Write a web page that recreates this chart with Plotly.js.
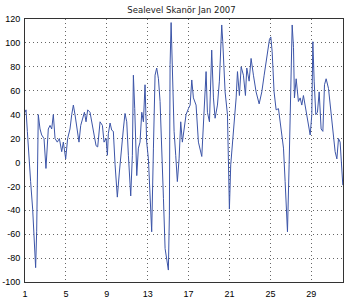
<!DOCTYPE html>
<html>
<head>
<meta charset="utf-8">
<script src="https://cdn.plot.ly/plotly-3.0.1.min.js"></script>
<style>html,body{margin:0;padding:0;background:#fff;}#chart{width:363px;height:299px;}</style>
</head>
<body>
<div id="chart"></div>
<script>
// Day of January 2007 (fractional) and sea level (cm)
const days = [
 1.00,1.10,1.23,1.39,1.55,1.75,1.91,2.04,2.14,2.24,2.30,2.47,2.63,2.86,3.05,3.28,3.45,3.61,3.77,3.94,
 4.16,4.36,4.59,4.75,4.98,5.17,5.40,5.57,5.73,5.89,6.12,6.28,6.45,6.64,6.81,6.97,7.13,7.36,7.59,7.75,
 7.95,8.11,8.34,8.57,8.73,8.93,9.06,9.15,9.32,9.48,9.64,9.81,10.03,10.23,10.46,10.62,10.78,10.95,11.11,11.34,
 11.50,11.60,11.73,11.93,12.09,12.25,12.42,12.58,12.74,12.90,13.07,13.23,13.39,13.56,13.72,13.88,14.05,14.21,14.37,14.54,
 14.70,14.86,15.02,15.12,15.19,15.29,15.42,15.58,15.74,15.90,16.07,16.23,16.39,16.56,16.75,16.98,17.15,17.31,17.47,17.73,
 17.96,18.29,18.51,18.71,18.84,19.04,19.26,19.43,19.59,19.82,20.01,20.24,20.34,20.57,20.80,20.99,21.12,21.38,21.65,21.78,
 21.97,22.14,22.36,22.56,22.69,22.92,23.11,23.34,23.60,23.90,24.16,24.39,24.65,24.91,25.04,25.17,25.36,25.56,25.79,26.02,
 26.28,26.44,26.67,26.83,27.00,27.13,27.26,27.35,27.52,27.74,27.91,28.07,28.23,28.50,28.72,28.89,29.05,29.15,29.28,29.44,
 29.60,29.77,29.96,30.13,30.29,30.45,30.68,30.91,31.10,31.33,31.50,31.66,31.82,31.98,32.08
];
const level = [
 42,44,26,0,-16,-39,-72,-88,-58,-8,40,28,23,20,-5,28,31,28,40,20,
 17,20,9,17,3,20,28,40,48,40,26,17,31,37,42,34,44,42,31,26,
 14,13,34,31,17,20,6,24,33,27,26,-2,-29,-8,17,28,41,34,6,-28,
 6,73,45,-11,12,17,42,34,65,17,3,-30,-58,12,73,79,70,51,17,-30,
 -72,-83,-90,-44,82,117,82,26,6,-16,3,34,17,26,40,45,48,69,54,48,
 17,5,40,76,42,34,94,54,37,48,68,115,101,59,40,-39,-2,26,54,76,
 56,80,73,56,79,68,87,73,59,49,59,73,87,103,105,93,59,44,45,31,
 12,-16,-58,-2,54,115,96,54,70,51,54,48,56,42,28,23,40,101,68,40,
 42,59,28,26,65,70,62,42,28,9,3,20,17,-5,-19
];
const xTicks = [1,5,9,13,17,21,25,29];
const yTicks = [-100,-80,-60,-40,-20,0,20,40,60,80,100,120];
const chartTitle = 'Sealevel Skanör Jan 2007';

const axisCommon = {
  showgrid: true, gridcolor: '#666', griddash: '1px,3px', gridwidth: 1,
  showline: true, linecolor: '#333', linewidth: 1, mirror: true,
  ticks: '', zeroline: false,
  tickfont: {family: 'Liberation Sans, Arial, sans-serif', size: 9, color: '#000'}
};

Plotly.newPlot('chart', [{
  x: days, y: level, type: 'scatter', mode: 'lines',
  line: {color: '#3c55a8', width: 1}, hoverinfo: 'skip'
}], {
  width: 363, height: 299,
  margin: {l: 25, r: 20, t: 19, b: 17},
  paper_bgcolor: '#fff', plot_bgcolor: '#fff',
  showlegend: false,
  title: {text: chartTitle, x: 0.5, xanchor: 'center', y: 0.968, yanchor: 'middle',
          font: {family: 'DejaVu Sans, sans-serif', size: 8.5, color: '#222'}},
  xaxis: Object.assign({}, axisCommon, {range: [1, 32.1], tickvals: xTicks, ticktext: xTicks.map(String), ticklabelstandoff: 3}),
  yaxis: Object.assign({}, axisCommon, {range: [-100, 120], tickvals: yTicks, ticktext: yTicks.map(String), ticklabelstandoff: 2})
}, {staticPlot: true});
</script>
</body>
</html>
